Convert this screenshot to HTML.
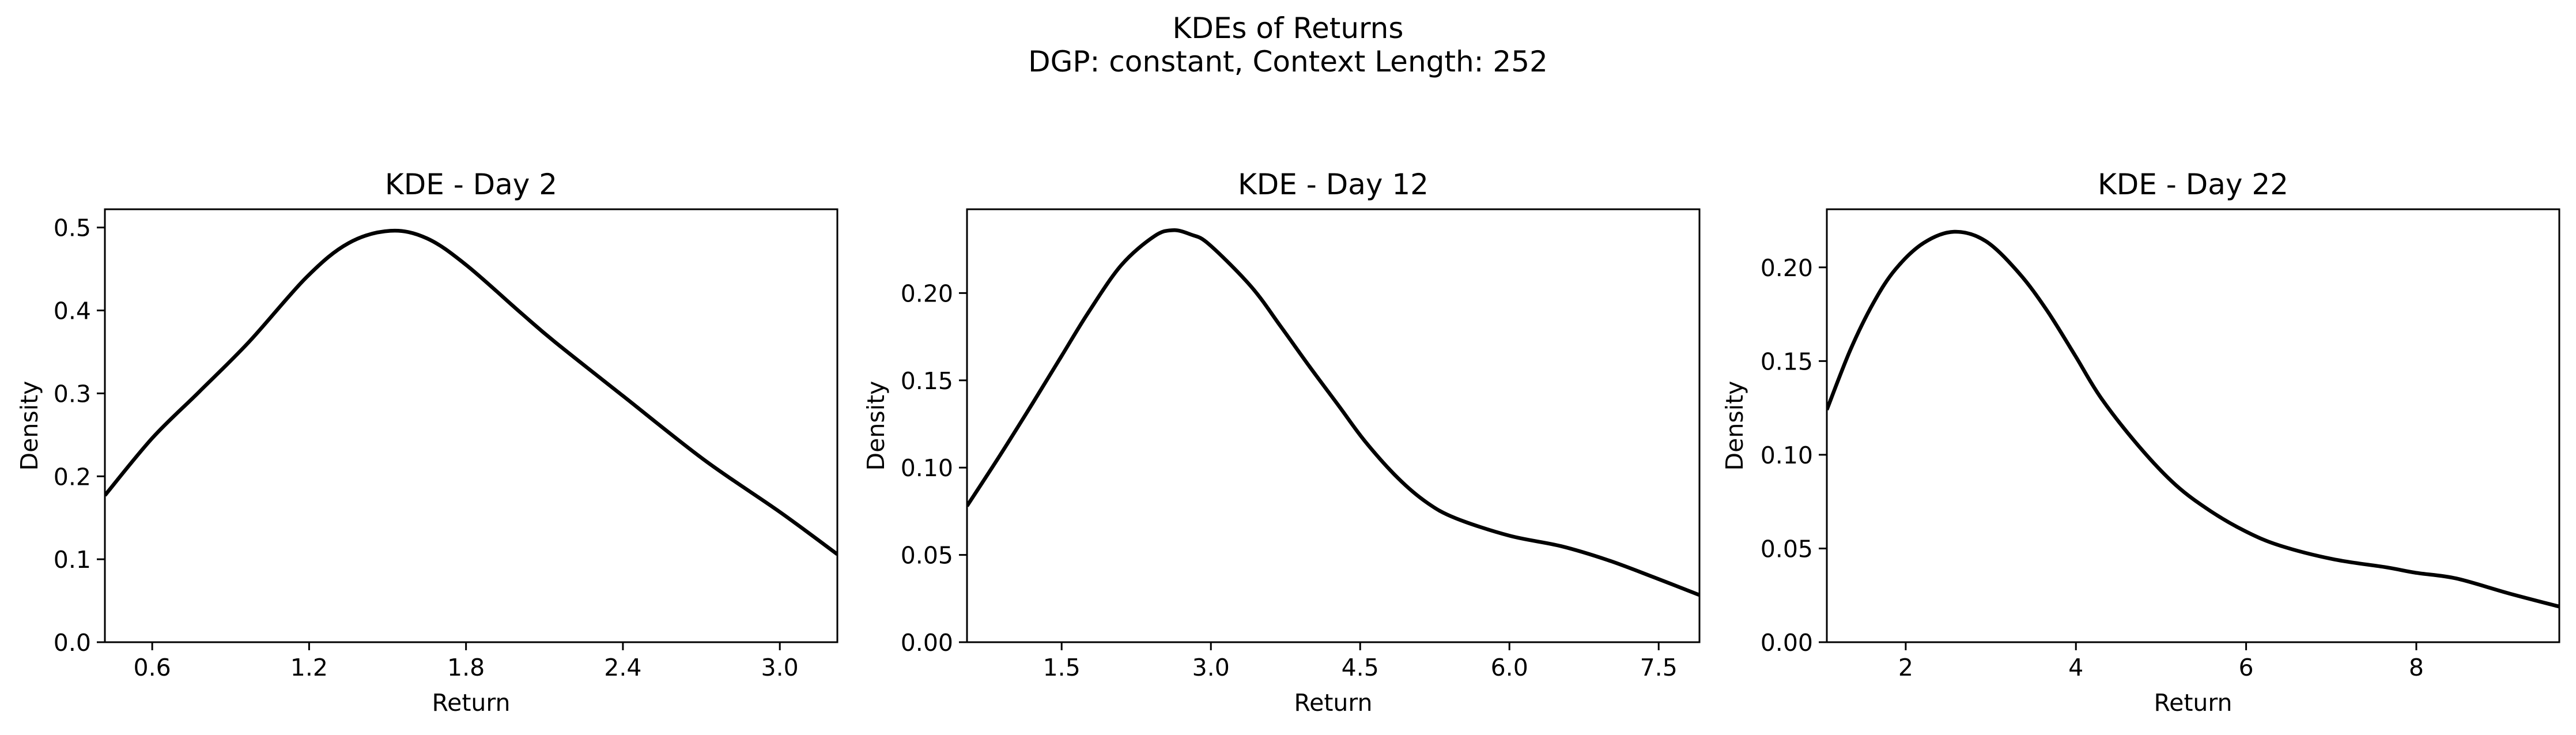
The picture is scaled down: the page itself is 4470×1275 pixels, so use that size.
<!DOCTYPE html>
<html><head><meta charset="utf-8"><style>
html,body{margin:0;padding:0;background:#fff;}
svg{display:block;font-family:"DejaVu Sans","Liberation Sans",sans-serif;}
</style></head><body>
<svg id="fig" width="4470" height="1275" viewBox="0 0 4470 1275" xmlns="http://www.w3.org/2000/svg">
<rect width="4470" height="1275" fill="#fff"/>
<text x="2235" y="66" font-size="50" text-anchor="middle">KDEs of Returns</text>
<text x="2235" y="124" font-size="50" text-anchor="middle">DGP: constant, Context Length: 252</text>
</svg>
<script>
const panelTitles = ["KDE - Day 2", "KDE - Day 12", "KDE - Day 22"];
const xDomains = [[0.419, 3.22], [0.549, 7.91], [1.073, 9.68]];
const yDomains = [[0, 0.522], [0, 0.248], [0, 0.231]];
const xTicks = [[0.6, 1.2, 1.8, 2.4, 3.0], [1.5, 3.0, 4.5, 6.0, 7.5], [2, 4, 6, 8]];
const xTickLabels = [["0.6","1.2","1.8","2.4","3.0"], ["1.5","3.0","4.5","6.0","7.5"], ["2","4","6","8"]];
const yTicks = [[0,0.1,0.2,0.3,0.4,0.5], [0,0.05,0.1,0.15,0.2], [0,0.05,0.1,0.15,0.2]];
const yTickLabels = [["0.0","0.1","0.2","0.3","0.4","0.5"], ["0.00","0.05","0.10","0.15","0.20"], ["0.00","0.05","0.10","0.15","0.20"]];
const day2X = [0.419,0.6,0.78,0.97,1.19,1.35,1.51,1.65,1.80,2.01,2.14,2.40,2.71,3.0,3.22];
const day2Y = [0.177,0.246,0.302,0.362,0.44,0.481,0.496,0.487,0.455,0.397,0.362,0.297,0.220,0.157,0.106];
const day12X = [0.549,0.88,1.21,1.50,1.77,2.10,2.43,2.62,2.80,2.98,3.40,3.70,3.99,4.29,4.55,4.88,5.17,5.46,6.0,6.52,6.99,7.46,7.91];
const day12Y = [0.078,0.107,0.137,0.164,0.189,0.216,0.2325,0.236,0.2335,0.228,0.204,0.181,0.158,0.135,0.115,0.094,0.080,0.071,0.061,0.055,0.047,0.037,0.027];
const day22X = [1.073,1.35,1.62,1.88,2.21,2.57,2.94,3.33,3.66,3.99,4.30,4.75,5.17,5.58,6.0,6.40,7.02,7.64,8.0,8.47,9.09,9.68];
const day22Y = [0.124,0.156,0.181,0.199,0.213,0.219,0.214,0.197,0.177,0.153,0.130,0.104,0.084,0.070,0.059,0.0515,0.0443,0.040,0.037,0.034,0.026,0.019];
const seriesX = [day2X, day12X, day22X];
const seriesY = [day2Y, day12Y, day22Y];

const NS = "http://www.w3.org/2000/svg";
const svg = document.getElementById("fig");
const boxes = [[182,1453],[1678,2949],[3170,4441]];
const yLabelX = [51,1520,3010];
const axTop = 363, axBottom = 1114;
function mk(tag, attrs, parent){const e=document.createElementNS(NS,tag);for(const k in attrs)e.setAttribute(k,attrs[k]);(parent||svg).appendChild(e);return e;}

for (let p=0;p<3;p++){
  const [L,R]=boxes[p];
  const sx=v=>L+(v-xDomains[p][0])/(xDomains[p][1]-xDomains[p][0])*(R-L);
  const sy=v=>axBottom-(v-yDomains[p][0])/(yDomains[p][1]-yDomains[p][0])*(axBottom-axTop);
  const g=mk("g",{});
  
  
  const t=mk("text",{x:(L+R)/2,y:axTop-26,"font-size":50,"text-anchor":"middle"},g);
  t.textContent=panelTitles[p];
  
  
  const clip=mk("clipPath",{id:"c"+p},g);
  mk("rect",{x:L,y:axTop,width:R-L,height:axBottom-axTop},clip);
  const xs=seriesX[p], ys=seriesY[p];
  const pts=xs.map((x,i)=>[sx(x),sy(ys[i])]);
  let d="M"+pts[0][0]+","+pts[0][1];
  for(let i=0;i<pts.length-1;i++){
    const p0=pts[i-1]||pts[i], p1=pts[i], p2=pts[i+1], p3=pts[i+2]||p2;
    const c1=[p1[0]+(p2[0]-p0[0])/6,p1[1]+(p2[1]-p0[1])/6];
    const c2=[p2[0]-(p3[0]-p1[0])/6,p2[1]-(p3[1]-p1[1])/6];
    d+=" C"+c1+" "+c2+" "+p2;
  }
  const path=mk("path",{d:d,fill:"none",stroke:"#000","stroke-width":6.5,"clip-path":"url(#c"+p+")","stroke-linejoin":"round"},g);
  
  
  const frame=mk("rect",{x:L,y:axTop,width:R-L,height:axBottom-axTop,fill:"none",stroke:"#000","stroke-width":3},g);
  
  
  xTicks[p].forEach((v,i)=>{
    const x=sx(v);
    mk("line",{x1:x,x2:x,y1:axBottom,y2:axBottom+14,stroke:"#000","stroke-width":3},g);
    const tl=mk("text",{x:x,y:axBottom+58,"font-size":41,"text-anchor":"middle"},g);
    tl.textContent=xTickLabels[p][i];
    
    
  });
  yTicks[p].forEach((v,i)=>{
    const y=sy(v);
    mk("line",{x1:L-14,x2:L,y1:y,y2:y,stroke:"#000","stroke-width":3},g);
    const tl=mk("text",{x:L-24,y:y+15,"font-size":41,"text-anchor":"end"},g);
    tl.textContent=yTickLabels[p][i];
    
    
  });
  const xl=mk("text",{x:(L+R)/2,y:1233,"font-size":41,"text-anchor":"middle"},g);
  xl.textContent="Return";
  
  
  const yl=mk("text",{x:0,y:0,"font-size":41,"text-anchor":"middle",transform:"translate("+(yLabelX[p]+14)+","+((axTop+axBottom)/2)+") rotate(-90)"},g);
  yl.textContent="Density";
  
  
}
</script>
</body></html>
